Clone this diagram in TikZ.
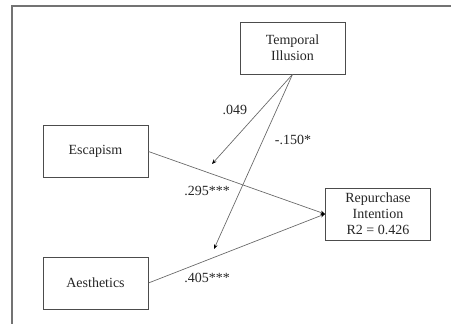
\documentclass[tikz,border=0pt]{standalone}
\usepackage{fontspec}
\setmainfont{Liberation Serif}
\usetikzlibrary{arrows.meta}
\begin{document}
\begin{tikzpicture}[x=0.75pt,y=-0.75pt,
  box/.style={draw=black!70, line width=0.65pt, minimum width=105*0.75pt, minimum height=52*0.75pt, inner sep=0pt, align=center, font=\fontsize{10.5}{12}\selectfont, text=black!85},
  path/.style={draw=black!60, line width=0.5pt, -{Stealth[length=3.5pt,width=2.8pt,black]}},
  lab/.style={font=\fontsize{10.5}{12}\selectfont, text=black!85, inner sep=0pt}]
\useasboundingbox (0,0) rectangle (451,324);
\draw[black!55, line width=1.1pt] (12,330) -- (12,6) -- (460,6);
\node[box] (ti) at (292.5,48) {Temporal\\Illusion};
\node[box] (es) at (95.5,151.5) {Escapism};
\node[box] (ae) at (95.5,283) {Aesthetics};
\node[box] (ri) at (378,214) {Repurchase\\Intention\\R2 = 0.426};
\coordinate (m1) at (212,164);
\coordinate (m2) at (214,249);
\draw[path] (ti.south) -- (m1);
\draw[path] (ti.south) -- (m2);
\draw[path] (es.east) -- (ri.west);
\draw[path] (ae.east) -- (ri.west);
\node[lab] (l1) at (235,110) {.049};
\node[lab] (l2) at (293,140) {-.150*};
\node[lab] (l3) at (207,191) {.295***};
\node[lab] (l4) at (207,278) {.405***};
\end{tikzpicture}
\end{document}
